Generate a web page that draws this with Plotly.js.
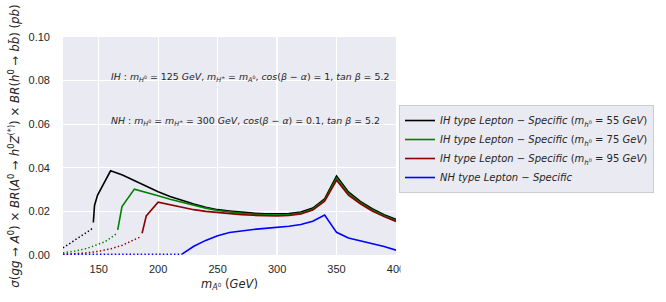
<!DOCTYPE html>
<html>
<head>
<meta charset="utf-8">
<script src="https://cdn.plot.ly/plotly-3.0.1.min.js"></script>
<style>html,body{margin:0;padding:0;background:#fff;}#chart{width:666px;height:302px;}</style>
</head>
<body>
<div id="chart"></div>
<script>
// ---- data ----
const blackDotX = [120, 125, 130, 135, 140, 145];
const blackDotY = [0.0033, 0.0050, 0.0068, 0.0086, 0.0104, 0.0123];
const blackX = [145.5, 146.5, 149, 160, 170, 180, 190, 200, 210, 220, 230, 240, 250, 260, 270, 280, 290, 300, 310, 320, 330, 340, 350, 360, 370, 380, 390, 400];
const blackY = [0.0149, 0.0227, 0.0274, 0.0386, 0.0367, 0.0342, 0.0314, 0.0290, 0.0268, 0.0250, 0.0234, 0.0219, 0.0208, 0.0202, 0.0196, 0.0192, 0.0189, 0.0188, 0.0190, 0.0197, 0.0215, 0.0258, 0.0362, 0.0289, 0.0246, 0.0212, 0.0185, 0.0163];

const greenDotX = [120, 130, 140, 150, 155, 160, 165];
const greenDotY = [0.0010, 0.0018, 0.0030, 0.0048, 0.0060, 0.0078, 0.0098];
const greenX = [166, 169.6, 180, 190, 200, 210, 220, 230, 240, 250, 260, 270, 280, 290, 300, 310, 320, 330, 340, 350, 360, 370, 380, 390, 400];
const greenY = [0.0115, 0.0222, 0.0302, 0.0288, 0.0272, 0.0256, 0.0242, 0.0228, 0.0215, 0.0204, 0.0197, 0.0191, 0.0187, 0.0184, 0.0183, 0.0185, 0.0192, 0.0210, 0.0252, 0.0352, 0.0282, 0.0240, 0.0207, 0.0180, 0.0158];

const redDotX = [120, 130, 140, 150, 160, 170, 180, 185];
const redDotY = [0.0003, 0.0006, 0.0010, 0.0017, 0.0028, 0.0045, 0.0068, 0.0083];
const redX = [186.5, 190, 200, 210, 220, 230, 240, 250, 260, 270, 280, 290, 300, 310, 320, 330, 340, 350, 360, 370, 380, 390, 400];
const redY = [0.0100, 0.0179, 0.0242, 0.0230, 0.0218, 0.0208, 0.0200, 0.0194, 0.0189, 0.0185, 0.0182, 0.0180, 0.0179, 0.0181, 0.0188, 0.0206, 0.0247, 0.0343, 0.0275, 0.0235, 0.0202, 0.0176, 0.0154];

const blueDotX = [120, 140, 160, 180, 200, 220];
const blueDotY = [0.0003, 0.0003, 0.0003, 0.0003, 0.0003, 0.0004];
const blueX = [220, 230, 240, 250, 260, 270, 280, 290, 300, 310, 320, 330, 340, 350, 360, 370, 380, 390, 400];
const blueY = [0.0004, 0.0040, 0.0067, 0.0088, 0.0103, 0.0111, 0.0117, 0.0122, 0.0126, 0.0132, 0.0140, 0.0155, 0.0183, 0.0104, 0.0078, 0.0066, 0.0054, 0.0039, 0.0022];

const xTicks = [150, 200, 250, 300, 350, 400];
const yTicks = [0.00, 0.02, 0.04, 0.06, 0.08, 0.10];

const names = [
  "<i>IH type Lepton</i> − <i>Specific</i> (<i>m</i><sub><i>h</i><sup>0</sup></sub> = 55 <i>GeV</i>)",
  "<i>IH type Lepton</i> − <i>Specific</i> (<i>m</i><sub><i>h</i><sup>0</sup></sub> = 75 <i>GeV</i>)",
  "<i>IH type Lepton</i> − <i>Specific</i> (<i>m</i><sub><i>h</i><sup>0</sup></sub> = 95 <i>GeV</i>)",
  "<i>NH type Lepton</i> − <i>Specific</i>"
];
const colors = ["#000000", "#008000", "#8b0000", "#0000ff"];

// ---- traces ----
const dotStyle = {dash: "1.4px,2.3px", width: 1.5};
function dotted(x, y, c) {
  return {x: x, y: y, mode: "lines", showlegend: false, hoverinfo: "skip",
          line: Object.assign({color: c}, dotStyle)};
}
function solid(x, y, c, n) {
  return {x: x, y: y, mode: "lines", name: n, line: {color: c, width: 1.6}};
}
const traces = [
  dotted(blackDotX, blackDotY, colors[0]),
  dotted(greenDotX, greenDotY, colors[1]),
  dotted(redDotX, redDotY, colors[2]),
  dotted(blueDotX, blueDotY, colors[3]),
  solid(blackX, blackY, colors[0], names[0]),
  solid(greenX, greenY, colors[1], names[1]),
  solid(redX, redY, colors[2], names[2]),
  solid(blueX, blueY, colors[3], names[3])
];

const mathFont = {family: "DejaVu Sans", size: 9.4, color: "#262626"};

const layout = {
  width: 666, height: 302,
  margin: {l: 63, r: 270, t: 37, b: 47, pad: 0},
  paper_bgcolor: "#ffffff",
  plot_bgcolor: "#eaeaf2",
  showlegend: true,
  xaxis: {
    range: [120, 400], tickvals: xTicks, ticktext: xTicks.map(String),
    showgrid: true, gridcolor: "#ffffff", gridwidth: 1.2, zeroline: false, showline: false,
    ticks: "", ticklabelstandoff: 6,
    tickfont: {family: "Liberation Sans, Arial", size: 11, color: "#262626"},
    title: {text: "<i>m</i><sub><i>A</i><sup>0</sup></sub> (<i>GeV</i>)", standoff: 5,
            font: {family: "DejaVu Sans", size: 11.5, color: "#262626"}}
  },
  yaxis: {
    range: [0, 0.10], tickvals: yTicks, ticktext: yTicks.map(v => v.toFixed(2)),
    showgrid: true, gridcolor: "#ffffff", gridwidth: 1.2, zeroline: false, showline: false,
    ticks: "", ticklabelstandoff: 12,
    tickfont: {family: "Liberation Sans, Arial", size: 11, color: "#262626"},
    title: {text: "<i>σ</i>(<i>gg</i> → <i>A</i><sup>0</sup>) × <i>BR</i>(<i>A</i><sup>0</sup> → <i>h</i><sup>0</sup><i>Z</i><sup>(*)</sup>) × <i>BR</i>(<i>h</i><sup>0</sup> → <i>b</i><i>b̄</i>) (<i>pb</i>)",
            standoff: 6, font: {family: "DejaVu Sans", size: 11.8, color: "#262626"}}
  },
  legend: {
    x: 1.009, xanchor: "left", y: 0.688, yanchor: "top",
    bgcolor: "#eaeaf2", bordercolor: "#cccccc", borderwidth: 1,
    font: {family: "DejaVu Sans", size: 10, color: "#262626"},
    tracegroupgap: 0
  },
  annotations: [
    {x: 159, y: 0.0815, xref: "x", yref: "y", xanchor: "left", yanchor: "middle", showarrow: false,
     font: mathFont,
     text: "<i>IH</i> : <i>m</i><sub><i>H</i><sup>0</sup></sub> = 125 <i>GeV</i>, <i>m</i><sub><i>H</i><sup>±</sup></sub> = <i>m</i><sub><i>A</i><sup>0</sup></sub>, <i>cos</i>(<i>β</i> − <i>α</i>) = 1, <i>tan β</i> = 5.2"},
    {x: 159, y: 0.0612, xref: "x", yref: "y", xanchor: "left", yanchor: "middle", showarrow: false,
     font: mathFont,
     text: "<i>NH</i> : <i>m</i><sub><i>H</i><sup>0</sup></sub> = <i>m</i><sub><i>H</i><sup>±</sup></sub> = 300 <i>GeV</i>, <i>cos</i>(<i>β</i> − <i>α</i>) = 0.1, <i>tan β</i> = 5.2"}
  ],
  shapes: [
    {type: "rect", xref: "paper", yref: "paper", layer: "above",
     x0: (400.5 - 63) / 333, x1: 1.3, y0: -0.2, y1: -0.015,
     fillcolor: "#ffffff", line: {width: 0}}
  ]
};

Plotly.newPlot("chart", traces, layout, {displayModeBar: false, staticPlot: true});
</script>
</body>
</html>
